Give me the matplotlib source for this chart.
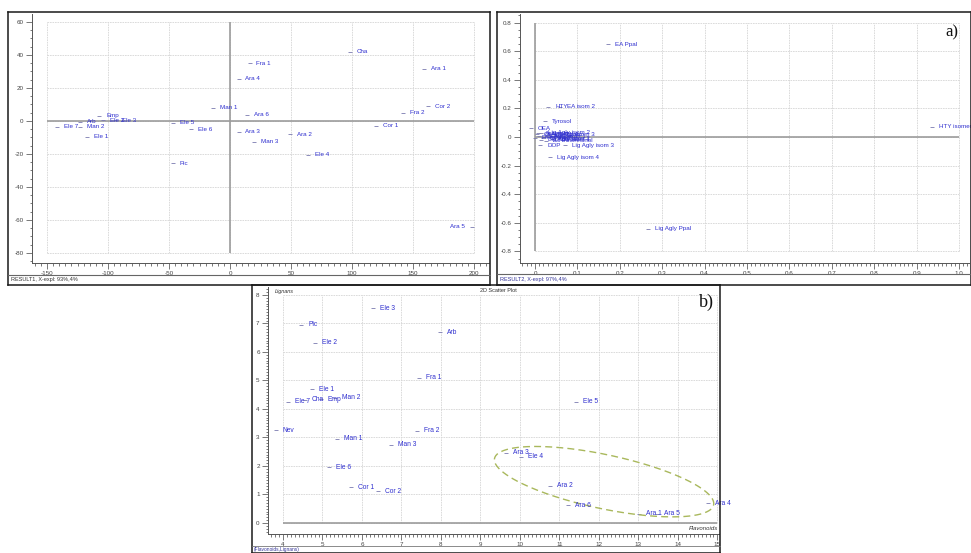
import matplotlib
matplotlib.use('Agg')
import matplotlib.pyplot as plt
from matplotlib.ticker import MultipleLocator
from matplotlib.lines import Line2D
import numpy as np

plt.rcParams['font.family'] = ['Liberation Sans', 'DejaVu Sans']
plt.rcParams['axes.unicode_minus'] = False

BLUE = '#2f2fcf'
MARK = '#7a7ab0'
GRID = '#d6d6d6'
ZERO = '#9c9c9c'

# ---- panel a, left: scores (RESULT1)
s_names = ['Cha', 'Fra 1', 'Ara 4', 'Ara 1', 'Cor 2', 'Fra 2', 'Cor 1', 'Ara 6',
           'Ara 3', 'Man 3', 'Ara 2', 'Ele 4', 'Ara 5', 'Man 1', 'Ele 5', 'Ele 6',
           'Pic', 'Ele 7', 'Arb', 'Man 2', 'Ele 1', 'Emp', 'Ele 2', 'Ele 3']
s_x = [98, 16, 7, 159, 162, 142, 120, 14, 7, 20, 49, 64, 198, -14, -47, -32,
       -47, -142, -123, -123, -117, -107, -104, -94]
s_y = [42, 35, 25.5, 31.5, 9, 5, -3, 3.6, -6.7, -12.7, -8, -20.6, -64, 8, -1.2, -5,
       -25.5, -3.6, -0.6, -3.6, -9.7, 3, 0.5, 0.5]
s_xticks = [-150, -100, -50, 0, 50, 100, 150, 200]
s_yticks = [60, 40, 20, 0, -20, -40, -60, -80]

# ---- panel a, right: loadings (RESULT2)
l_names = ['EA Ppal', 'HTY', 'EA isom 2', 'Tyrosol', 'OEA', 'HTY isomer',
           'Lig Agly Ppal', 'DOP', 'Lig Agly isom 3', 'Lig Agly isom 4',
           'Ol Agly Ppal', 'Ol Agly isom 1', 'Ol Agly isom 2', 'Ol Agly isom 3',
           'Lig Agly isom 1', 'Lig Agly isom 2', 'Pinoresinol', 'Ac Pinoresinol',
           'Luteolin', 'Apigenin', 'HTY Ac', 'EA isom 1']
l_x = [0.172, 0.031, 0.059, 0.024, -0.010, 0.936, 0.267, 0.012, 0.070, 0.035,
       0.005, 0.010, 0.020, 0.030, 0.015, 0.014, 0.000, 0.025, 0.040, 0.008,
       0.045, 0.018]
l_y = [0.65, 0.21, 0.21, 0.11, 0.06, 0.07, -0.64, -0.056, -0.056, -0.14,
       0.020, 0.005, -0.010, 0.015, -0.020, 0.030, -0.005, -0.025, -0.015,
       0.025, 0.020, 0.000]
l_xticks = [0, 0.1, 0.2, 0.3, 0.4, 0.5, 0.6, 0.7, 0.8, 0.9, 1.0]
l_xlabels = ['0', '0.1', '0.2', '0.3', '0.4', '0.5', '0.6', '0.7', '0.8', '0.9', '1.0']
l_yticks = [0.8, 0.6, 0.4, 0.2, 0, -0.2, -0.4, -0.6, -0.8]
l_ylabels = ['0.8', '0.6', '0.4', '0.2', '0', '-0.2', '-0.4', '-0.6', '-0.8']

# ---- panel b: flavonoids vs lignans
f_names = ['Ele 3', 'Pic', 'Arb', 'Ele 2', 'Fra 1', 'Ele 1', 'Ele 7', 'Cha', 'Emp',
           'Man 2', 'Ele 5', 'Nev', 'Fra 2', 'Man 1', 'Man 3', 'Ele 6', 'Cor 1',
           'Cor 2', 'Ara 3', 'Ele 4', 'Ara 2', 'Ara 6', 'Ara 1', 'Ara 5', 'Ara 4']
flav = [6.28, 4.46, 7.97, 4.81, 7.44, 4.73, 4.13, 4.56, 4.96, 5.32, 11.42, 3.82,
        7.39, 5.37, 6.73, 5.16, 5.72, 6.41, 9.65, 10.03, 10.76, 11.22, 13.01,
        13.47, 14.76]
lign = [7.54, 6.95, 6.70, 6.32, 5.09, 4.70, 4.25, 4.32, 4.35, 4.39, 4.25, 3.26,
        3.23, 2.95, 2.74, 1.96, 1.26, 1.12, 2.46, 2.32, 1.30, 0.63, 0.32, 0.32,
        0.70]
f_xticks = list(range(4, 16))
f_yticks = list(range(0, 9))

# highlight ellipse round the Ara group (centre in data, half axes in px)
ELL_CX, ELL_CY = 12.13, 1.45
ELL_A, ELL_B, ELL_ANG = 112, 27, -12

W, H = 971, 553
fig = plt.figure(figsize=(W / 100, H / 100), dpi=100)


def box(l, t, r, b):
    return [l / W, 1 - b / H, (r - l) / W, (b - t) / H]


def fline(x0, y0, x1, y1, lw=1.1, c='#1a1a1a'):
    fig.add_artist(Line2D([x0 / W, x1 / W], [1 - y0 / H, 1 - y1 / H], lw=lw, color=c))


def frame(l, t, r, b):
    fline(l, t, r, t)
    fline(l, b, r, b)
    fline(l, t, l, b)
    fline(r, t, r, b)


def style(ax, xlim, ylim, xt, xtl, yt, ytl, xmin, ymin):
    ax.set_xlim(xlim)
    ax.set_ylim(ylim)
    ax.patch.set_alpha(0)
    for s in ['top', 'right']:
        ax.spines[s].set_visible(False)
    for s in ['left', 'bottom']:
        ax.spines[s].set_color('#555555')
        ax.spines[s].set_linewidth(0.7)
    ax.set_xticks(xt, xtl)
    ax.set_yticks(yt, ytl)
    ax.xaxis.set_minor_locator(MultipleLocator(xmin))
    ax.yaxis.set_minor_locator(MultipleLocator(ymin))
    ax.tick_params(which='both', labelsize=4.5, colors='#444444', width=0.5)
    ax.tick_params(which='major', length=4, pad=2)
    ax.tick_params(which='minor', length=1.8)


def grid(ax, xs, ys, x0, x1, y0, y1):
    ax.vlines(xs, y0, y1, colors=GRID, lw=0.6, linestyles=(0, (2, 1)), zorder=0)
    ax.hlines(ys, x0, x1, colors=GRID, lw=0.6, linestyles=(0, (2, 1)), zorder=0)


def points(ax, names, xs, ys, fs=4.5, left=()):
    ax.plot(xs, ys, '_', ms=2.5, mew=0.6, color=MARK, ls='none')
    for n, x, y in zip(names, xs, ys):
        if n in left:
            ax.annotate(n, (x, y), xytext=(-5, 0), textcoords='offset points',
                        ha='right', va='center', fontsize=fs, color=BLUE)
        else:
            ax.annotate(n, (x, y), xytext=(5, 0), textcoords='offset points',
                        ha='left', va='center', fontsize=fs, color=BLUE)


# ---------- panel a left
ax1 = fig.add_axes(box(32, 14, 489, 263))
style(ax1, (-162.3, 212.3), (-86.1, 64.8), s_xticks, [str(v) for v in s_xticks],
      s_yticks, [str(v) for v in s_yticks], 5, 5)
grid(ax1, s_xticks, s_yticks, -150, 200, -80, 60)
ax1.vlines(0, -80, 60, colors=ZERO, lw=1.2, zorder=1)
ax1.hlines(0, -150, 200, colors=ZERO, lw=1.2, zorder=1)
points(ax1, s_names, s_x, s_y, left=('Ara 5',))
frame(8, 12, 490, 285)
fline(8, 275, 490, 275, lw=0.8, c='#666666')
fig.text(11 / W, 1 - 280 / H, 'RESULT1, X-expl: 93%,4%', fontsize=4, color='#333333',
         va='center')

# ---------- panel a right
ax2 = fig.add_axes(box(520, 14, 969, 263))
style(ax2, (-0.0354, 1.0236), (-0.881, 0.860), l_xticks, l_xlabels,
      l_yticks, l_ylabels, 0.01, 0.05)
grid(ax2, l_xticks, l_yticks, 0, 1.0, -0.8, 0.8)
ax2.vlines(0, -0.8, 0.8, colors=ZERO, lw=1.2, zorder=1)
ax2.hlines(0, 0, 1.0, colors=ZERO, lw=1.2, zorder=1)
points(ax2, l_names, l_x, l_y)
frame(497, 12, 971, 285)
fline(497, 274, 971, 274, lw=0.8, c='#666666')
fig.text(500 / W, 1 - 279 / H, 'RESULT2, X-expl: 97%,4%', fontsize=4, color='#333399',
         va='center')
fig.text(952 / W, 1 - 32 / H, 'a)', fontsize=12, family='Liberation Serif',
         ha='center', va='center', color='#111111')

# ---------- panel b
ax3 = fig.add_axes(box(268, 287, 719, 534))
style(ax3, (3.62, 15.04), (-0.386, 8.28), f_xticks, [str(v) for v in f_xticks],
      f_yticks, [str(v) for v in f_yticks], 0.1, 0.1)
grid(ax3, f_xticks, f_yticks, 4, 15, 0, 8)
ax3.hlines(0, 4, 15, colors=ZERO, lw=1.2, zorder=1)
points(ax3, f_names, flav, lign, fs=4.8)

# dashed ellipse drawn in pixel proportions, mapped back to data units
sx = (719 - 268) / (15.04 - 3.62)
sy = (534 - 287) / (8.28 + 0.386)
t = np.linspace(0, 2 * np.pi, 200)
phi = np.deg2rad(ELL_ANG)
u = ELL_A * np.cos(t)
v = ELL_B * np.sin(t)
ax3.plot(ELL_CX + (u * np.cos(phi) - v * np.sin(phi)) / sx,
         ELL_CY + (u * np.sin(phi) + v * np.cos(phi)) / sy,
         color='#a9b85c', lw=1.0, ls=(0, (5, 3)), clip_on=False)

frame(252, 285, 720, 553)
fline(252, 546, 720, 546, lw=0.6, c='#777777')
fig.text(275 / W, 1 - 291 / H, 'Lignans', fontsize=4, style='italic', color='#333333',
         va='center')
fig.text(498 / W, 1 - 291 / H, '2D Scatter Plot', fontsize=4, color='#333333',
         ha='center', va='center')
fig.text(718 / W, 1 - 529 / H, 'Flavonoids', fontsize=4.3, style='italic',
         color='#333333', ha='right', va='center')
fig.text(254 / W, 1 - 550 / H, '(Flavonoids,Lignans)', fontsize=3.5, color='#333399',
         va='center')
fig.text(706 / W, 1 - 302 / H, 'b)', fontsize=13, family='Liberation Serif',
         ha='center', va='center', color='#111111')

fig.savefig('out.png', dpi=100)
